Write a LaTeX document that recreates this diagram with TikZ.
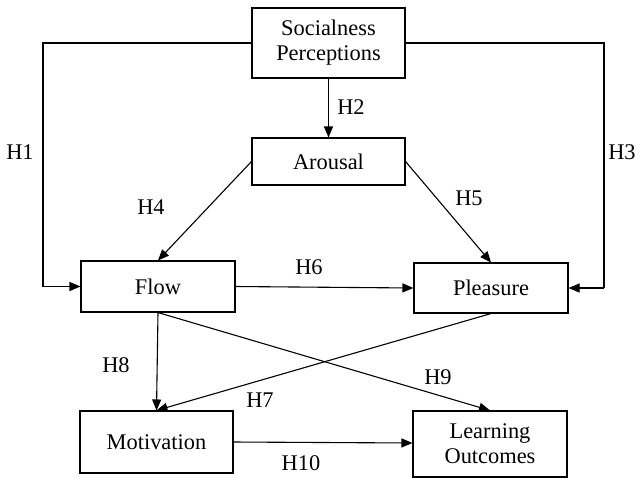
\documentclass[tikz,border=0pt]{standalone}
\usepackage{fontspec}
\setmainfont{Liberation Serif}
\usetikzlibrary{arrows.meta}
\begin{document}
\begin{tikzpicture}[x=1pt,y=-1pt,
  box/.style={draw, line width=1.1pt, rectangle, inner sep=0pt, align=center,
    font=\fontsize{22.4}{25}\selectfont},
  lbl/.style={font=\fontsize{22.4}{25}\selectfont, inner sep=0pt},
  link/.style={line width=1.1pt, -{Triangle[length=11pt,width=9pt]}},
  plain/.style={line width=1.1pt}]
\useasboundingbox (0,0) rectangle (644,477);
\node[box, minimum width=153pt, minimum height=70pt] (soc) at (328.5,43) {Socialness\\Perceptions};
\node[box, minimum width=153pt, minimum height=47pt] (aro) at (328.5,161.5) {Arousal};
\node[box, minimum width=154pt, minimum height=51pt] (flow) at (158,286.5) {Flow};
\node[box, minimum width=154pt, minimum height=50pt] (plea) at (491,288) {Pleasure};
\node[box, minimum width=153pt, minimum height=62pt] (mot) at (156.5,442) {Motivation};
\node[box, minimum width=154pt, minimum height=66pt] (lo) at (490,444) {Learning\\Outcomes};
\coordinate (l1) at (43,43);
\coordinate (l2) at (43,286.5);
\coordinate (r1) at (604,43);
\coordinate (r2) at (604,288);
\draw[plain] (soc.west) -- (l1) -- (l2);
\draw[link] (l2) -- (flow.west);
\draw[plain] (soc.east) -- (r1) -- (r2);
\draw[link] (r2) -- (plea.east);
\draw[link] (soc.south) -- (aro.north);
\draw[link] (aro.west) -- (flow.north);
\draw[link] (aro.east) -- (plea.north);
\draw[link] (flow.east) -- (plea.west);
\draw[link] (flow.south) -- (mot.north);
\draw[link] (flow.south) -- (lo.north);
\draw[link] (plea.south) -- (mot.north);
\draw[link] (mot.east) -- ([yshift=1pt]lo.west);
\node[lbl] (h1) at (20,152) {H1};
\node[lbl] (h2) at (351,107) {H2};
\node[lbl] (h3) at (622,152) {H3};
\node[lbl] (h4) at (151,207) {H4};
\node[lbl] (h5) at (469,198) {H5};
\node[lbl] (h6) at (309,267) {H6};
\node[lbl] (h7) at (260,400) {H7};
\node[lbl] (h8) at (116,365) {H8};
\node[lbl] (h9) at (438,377) {H9};
\node[lbl] (h10) at (301,463) {H10};
\end{tikzpicture}
\end{document}
